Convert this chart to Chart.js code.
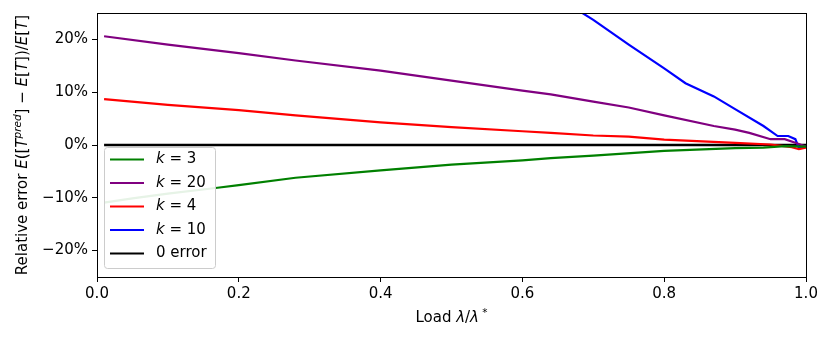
<!DOCTYPE html>
<html>
<head>
<meta charset="utf-8">
<script src="https://cdn.jsdelivr.net/npm/chart.js@4"></script>
<style>
  html, body { margin: 0; padding: 0; background: #fff; }
  #wrap { width: 831px; height: 338px; }
</style>
</head>
<body>
<div id="wrap"><canvas id="errChart" width="831" height="338"></canvas></div>
<script>
// values (error in %)
const loadK3 = [0.01, 0.05, 0.1, 0.17, 0.2, 0.28, 0.4, 0.5, 0.6, 0.64, 0.7, 0.8, 0.9, 0.94, 0.97, 1.0];
const errK3 = [-10.9, -10.1, -9.2, -8.1, -7.6, -6.2, -4.8, -3.7, -2.9, -2.5, -2.0, -1.1, -0.6, -0.5, -0.2, -0.3];

const loadK20 = [0.01, 0.1, 0.2, 0.28, 0.4, 0.5, 0.6, 0.64, 0.7, 0.75, 0.8, 0.87, 0.9, 0.92, 0.95, 0.97, 0.99, 1.0];
const errK20 = [20.6, 19.0, 17.4, 16.0, 14.1, 12.2, 10.3, 9.6, 8.2, 7.1, 5.6, 3.6, 2.9, 2.3, 1.1, 1.1, 0.2, -0.3];

const loadK4 = [0.01, 0.1, 0.2, 0.28, 0.4, 0.5, 0.6, 0.64, 0.7, 0.75, 0.8, 0.9, 0.95, 0.98, 0.99, 1.0];
const errK4 = [8.7, 7.6, 6.6, 5.6, 4.3, 3.4, 2.6, 2.3, 1.8, 1.6, 1.0, 0.4, 0.1, -0.4, -0.8, -0.5];

const loadK10 = [0.65, 0.7, 0.75, 0.8, 0.83, 0.87, 0.9, 0.94, 0.96, 0.975, 0.985, 0.99, 1.0];
const errK10 = [27.9, 23.7, 19.0, 14.5, 11.7, 9.2, 6.8, 3.6, 1.7, 1.7, 1.1, -0.6, -0.3];

const loadZero = [0.01, 1.0];
const errZero = [0, 0];

const xTicks = [0, 0.2, 0.4, 0.6, 0.8, 1.0];
const yTicks = [-20, -10, 0, 10, 20];

const seriesNames = ['k = 3', 'k = 20', 'k = 4', 'k = 10', '0 error'];
const seriesColors = ['#008000', '#800080', '#ff0000', '#0000ff', '#000000'];

function pts(xs, ys) {
    return xs.map((x, i) => ({ x: x, y: ys[i] }));
}

const FONT = '"DejaVu Sans", sans-serif';
const FS = 15;

// text pieces: [text, italic, superscript]
function drawPieces(ctx, pieces, size) {
    const fontOf = p => (p[1] ? 'italic ' : '') + (p[2] ? size * 0.7 : size) + 'px ' + FONT;
    let w = 0;
    pieces.forEach(p => { ctx.font = fontOf(p); w += ctx.measureText(p[0]).width; });
    let x = -w / 2;
    pieces.forEach(p => {
        ctx.font = fontOf(p);
        ctx.fillText(p[0], x, p[2] ? -size * 0.42 : 0);
        x += ctx.measureText(p[0]).width;
    });
}

const decorPlugin = {
    id: 'decor',
    afterDatasetsDraw(chart) {
        const ctx = chart.ctx;
        const a = chart.chartArea;
        ctx.save();
        // legend box
        const lx = 104, ly = 147, lw = 111, lh = 121;
        ctx.beginPath();
        ctx.roundRect(lx + 0.5, ly + 0.5, lw, lh, 3);
        ctx.fillStyle = 'rgba(255,255,255,0.9)';
        ctx.fill();
        ctx.strokeStyle = '#cccccc';
        ctx.lineWidth = 1;
        ctx.stroke();
        ctx.textBaseline = 'middle';
        seriesNames.forEach((name, i) => {
            const y = ly + 12.5 + i * 23.5;
            ctx.beginPath();
            ctx.moveTo(110, y);
            ctx.lineTo(144, y);
            ctx.strokeStyle = seriesColors[i];
            ctx.lineWidth = 2.2;
            ctx.stroke();
            ctx.fillStyle = '#000';
            if (name.startsWith('k')) {
                ctx.font = 'italic ' + FS + 'px ' + FONT;
                ctx.fillText('k', 156, y);
                const kw = ctx.measureText('k').width;
                ctx.font = FS + 'px ' + FONT;
                ctx.fillText(' = ' + name.split('= ')[1], 156 + kw, y);
            } else {
                ctx.font = FS + 'px ' + FONT;
                ctx.fillText(name, 156, y);
            }
        });
        // frame
        ctx.strokeStyle = '#000';
        ctx.lineWidth = 1;
        ctx.strokeRect(Math.round(a.left) + 0.5, Math.round(a.top) + 0.5,
            Math.round(a.right - a.left), Math.round(a.bottom - a.top));
        // axis titles
        ctx.fillStyle = '#000';
        ctx.textBaseline = 'alphabetic';
        ctx.save();
        ctx.translate((a.left + a.right) / 2, 322);
        drawPieces(ctx, [['Load ', false], ['\u03bb', true], ['/', false], ['\u03bb', true], [' *', false, true]], FS);
        ctx.restore();
        ctx.save();
        ctx.translate(27, (a.top + a.bottom) / 2);
        ctx.rotate(-Math.PI / 2);
        drawPieces(ctx, [
            ['Relative error ', false], ['E', true], ['([', false], ['T', true],
            ['pred', true, true], ['] \u2212 ', false], ['E', true], ['[', false],
            ['T', true], ['])/', false], ['E', true], ['[', false], ['T', true], [']', false]
        ], FS);
        ctx.restore();
        ctx.restore();
    }
};

const datasets = [
    [loadK3, errK3], [loadK20, errK20], [loadK4, errK4], [loadK10, errK10], [loadZero, errZero]
].map((s, i) => ({
    label: seriesNames[i],
    data: pts(s[0], s[1]),
    borderColor: seriesColors[i],
    backgroundColor: seriesColors[i],
    borderWidth: i === 4 ? 2.6 : 2.2,
    pointRadius: 0,
    tension: 0,
    fill: false
}));

new Chart(document.getElementById('errChart').getContext('2d'), {
    type: 'line',
    data: { datasets: datasets },
    options: {
        responsive: false,
        animation: false,
        layout: { padding: { left: 0, right: 25, top: 12, bottom: 0 } },
        plugins: { legend: { display: false }, tooltip: { enabled: false } },
        scales: {
            x: {
                type: 'linear',
                min: 0,
                max: 1,
                afterBuildTicks: scale => { scale.ticks = xTicks.map(v => ({ value: v })); },
                afterFit: scale => { scale.height = 61; },
                grid: { drawOnChartArea: false, drawTicks: true, tickLength: 5, color: '#000' },
                border: { color: '#000' },
                ticks: {
                    color: '#000',
                    font: { family: FONT, size: FS },
                    padding: 3,
                    maxRotation: 0,
                    callback: v => v.toFixed(1)
                }
            },
            y: {
                min: -25,
                max: 25,
                afterBuildTicks: scale => { scale.ticks = yTicks.map(v => ({ value: v })); },
                afterFit: scale => { scale.width = 97; },
                grid: { drawOnChartArea: false, drawTicks: true, tickLength: 5, color: '#000' },
                border: { color: '#000' },
                ticks: {
                    color: '#000',
                    font: { family: FONT, size: FS },
                    padding: 4,
                    callback: v => (v < 0 ? '\u2212' + Math.abs(v) : v) + '%'
                }
            }
        }
    },
    plugins: [decorPlugin]
});
</script>
</body>
</html>
